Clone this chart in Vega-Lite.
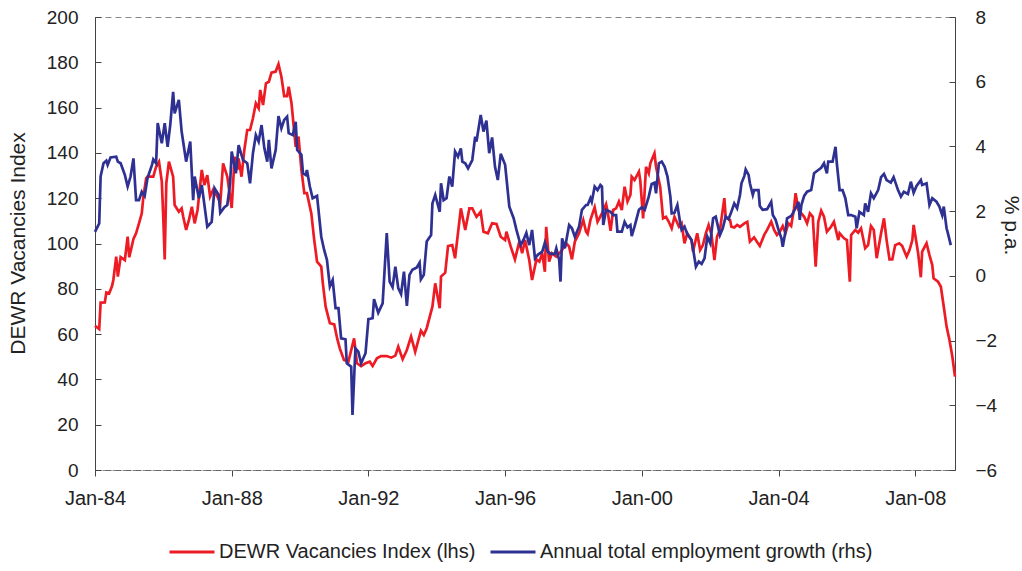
{
  "$schema": "https://vega.github.io/schema/vega-lite/v6.json",
  "width": 860,
  "height": 453,
  "autosize": "none",
  "padding": {"left": 95, "top": 17, "right": 67, "bottom": 101},
  "background": "white",
  "config": {
    "font": "Liberation Sans",
    "view": {"stroke": "#888888", "strokeDash": [6, 4], "strokeWidth": 1},
    "axis": {"grid": false, "labelFont": "Liberation Sans", "labelFontSize": 19, "labelColor": "#222222", "titleFont": "Liberation Sans", "titleFontSize": 21, "titleFontWeight": "normal", "titleColor": "#222222", "tickColor": "#444444", "domainColor": "#444444"},
    "legend": {"labelFont": "Liberation Sans", "labelFontSize": 20, "labelColor": "#222222", "labelLimit": 0}
  },
  "datasets": {
    "vacancies": [
      {"date":"1984-01-01","value":63.7},{"date":"1984-02-15","value":62.2},{"date":"1984-03-01","value":73.9},{"date":"1984-04-15","value":74},{"date":"1984-05-01","value":78.4},{"date":"1984-06-01","value":78},{"date":"1984-07-01","value":81.2},{"date":"1984-07-15","value":83.9},{"date":"1984-08-15","value":94.2},{"date":"1984-09-01","value":85.4},{"date":"1984-10-01","value":94},{"date":"1984-11-15","value":92.7},{"date":"1984-12-15","value":103},
      {"date":"1985-01-01","value":93.9},{"date":"1985-02-15","value":102},{"date":"1985-03-15","value":104.5},{"date":"1985-04-15","value":108.9},{"date":"1985-05-15","value":113.3},{"date":"1985-06-01","value":120.7},{"date":"1985-07-01","value":128.8},{"date":"1985-07-15","value":129.5},{"date":"1985-09-15","value":129.5},{"date":"1985-10-15","value":133.9},{"date":"1985-11-15","value":136.1},{"date":"1985-12-15","value":127.3},
      {"date":"1986-01-01","value":110},{"date":"1986-01-15","value":93},{"date":"1986-02-01","value":126.6},{"date":"1986-03-01","value":136.1},{"date":"1986-04-15","value":129.5},{"date":"1986-05-01","value":117},{"date":"1986-06-15","value":114},{"date":"1986-07-15","value":115.5},{"date":"1986-08-01","value":111.8},{"date":"1986-09-01","value":106},{"date":"1986-10-01","value":110.4},{"date":"1986-11-01","value":116.2},{"date":"1986-12-01","value":108.9},
      {"date":"1987-01-01","value":114.8},{"date":"1987-02-15","value":132.5},{"date":"1987-03-15","value":125.8},{"date":"1987-04-15","value":130.2},{"date":"1987-05-15","value":120.7},{"date":"1987-06-15","value":123.6},{"date":"1987-08-01","value":120.7},{"date":"1987-09-01","value":118},{"date":"1987-10-01","value":135.4},{"date":"1987-11-15","value":129.5},
      {"date":"1988-01-01","value":115.7},{"date":"1988-02-01","value":138.3},{"date":"1988-03-01","value":132.5},{"date":"1988-03-15","value":137.6},{"date":"1988-04-15","value":129.5},{"date":"1988-05-15","value":141.3},{"date":"1988-06-15","value":150.1},{"date":"1988-07-15","value":150.1},{"date":"1988-08-15","value":155.3},{"date":"1988-09-15","value":161.9},{"date":"1988-10-15","value":159.7},{"date":"1988-11-01","value":167.8},{"date":"1988-12-01","value":161.1},
      {"date":"1989-01-01","value":170.7},{"date":"1989-02-01","value":171.4},{"date":"1989-03-01","value":175.4},{"date":"1989-04-15","value":175.9},{"date":"1989-05-15","value":179.2},{"date":"1989-06-15","value":173.6},{"date":"1989-07-15","value":165.1},{"date":"1989-08-15","value":165.1},{"date":"1989-09-01","value":169.2},{"date":"1989-10-01","value":161.9},{"date":"1989-11-15","value":142.7},{"date":"1989-12-15","value":147.2},
      {"date":"1990-01-15","value":132.5},{"date":"1990-02-15","value":122.2},{"date":"1990-03-15","value":122.2},{"date":"1990-05-01","value":113.3},{"date":"1990-06-01","value":101.5},{"date":"1990-07-01","value":92},{"date":"1990-08-15","value":89.8},{"date":"1990-09-01","value":82.4},{"date":"1990-10-01","value":72.1},{"date":"1990-11-15","value":64.8},
      {"date":"1991-01-01","value":64.3},{"date":"1991-02-01","value":58.1},{"date":"1991-03-01","value":53.7},{"date":"1991-04-15","value":48.6},{"date":"1991-06-01","value":47.8},{"date":"1991-08-01","value":58.1},{"date":"1991-09-01","value":47.1},{"date":"1991-10-15","value":45.9},{"date":"1991-12-01","value":47.1},
      {"date":"1992-01-15","value":47.8},{"date":"1992-02-15","value":45.9},{"date":"1992-04-01","value":49.3},{"date":"1992-05-15","value":50.3},{"date":"1992-07-15","value":50.3},{"date":"1992-09-01","value":49.6},{"date":"1992-10-15","value":50.5},{"date":"1992-11-15","value":54.4},
      {"date":"1993-01-01","value":48.9},{"date":"1993-02-15","value":53},{"date":"1993-04-01","value":58.9},{"date":"1993-05-15","value":52.2},{"date":"1993-07-15","value":61.5},{"date":"1993-08-15","value":59.6},{"date":"1993-09-15","value":62.6},{"date":"1993-11-15","value":72.1},{"date":"1993-12-15","value":82.4},
      {"date":"1994-02-01","value":71.4},{"date":"1994-02-15","value":85.4},{"date":"1994-04-01","value":87.1},{"date":"1994-05-01","value":98.9},{"date":"1994-06-15","value":99.3},{"date":"1994-07-15","value":93.5},{"date":"1994-09-15","value":115.5},{"date":"1994-11-01","value":106},{"date":"1994-12-15","value":115.5},
      {"date":"1995-01-15","value":115.5},{"date":"1995-03-01","value":111.8},{"date":"1995-04-15","value":114},{"date":"1995-05-15","value":105.2},{"date":"1995-07-01","value":104.5},{"date":"1995-08-15","value":108.9},{"date":"1995-10-01","value":108.6},{"date":"1995-11-15","value":103},
      {"date":"1996-01-01","value":101.5},{"date":"1996-01-15","value":105.2},{"date":"1996-03-01","value":98.6},{"date":"1996-04-15","value":93},{"date":"1996-06-01","value":100.8},{"date":"1996-07-01","value":95.7},{"date":"1996-08-01","value":101.5},{"date":"1996-09-15","value":92.7},{"date":"1996-10-15","value":83.9},{"date":"1996-12-01","value":93},
      {"date":"1997-01-01","value":92},{"date":"1997-02-01","value":95.7},{"date":"1997-03-01","value":87.5},{"date":"1997-03-15","value":107.4},{"date":"1997-04-15","value":92},{"date":"1997-05-15","value":95.7},{"date":"1997-07-01","value":94.2},{"date":"1997-09-01","value":97.1},{"date":"1997-10-15","value":100.1},{"date":"1997-11-15","value":98.6},{"date":"1997-12-15","value":93},
      {"date":"1998-01-15","value":100.8},{"date":"1998-03-01","value":104.5},{"date":"1998-04-15","value":110.4},{"date":"1998-05-15","value":105.2},{"date":"1998-06-01","value":104.2},{"date":"1998-07-01","value":110.4},{"date":"1998-08-15","value":116},{"date":"1998-09-15","value":109.6},{"date":"1998-11-01","value":113.3},{"date":"1998-12-15","value":117.4},
      {"date":"1999-01-01","value":114},{"date":"1999-02-01","value":105.6},{"date":"1999-03-01","value":114.8},{"date":"1999-04-01","value":115.5},{"date":"1999-05-01","value":118.5},{"date":"1999-06-01","value":114.8},{"date":"1999-07-01","value":125.1},{"date":"1999-08-01","value":118.5},{"date":"1999-09-01","value":121.4},{"date":"1999-09-15","value":129.5},{"date":"1999-10-15","value":128},{"date":"1999-12-01","value":131.7},{"date":"1999-12-15","value":128},
      {"date":"2000-01-15","value":111.1},{"date":"2000-02-15","value":133.9},{"date":"2000-03-15","value":131},{"date":"2000-04-01","value":135.4},{"date":"2000-05-15","value":139.8},{"date":"2000-06-01","value":133.9},{"date":"2000-07-15","value":125.1},{"date":"2000-08-15","value":111.1},{"date":"2000-09-15","value":111.8},{"date":"2000-10-15","value":109.6},{"date":"2000-11-15","value":106.7},{"date":"2000-12-15","value":111.8},
      {"date":"2001-02-01","value":107.4},{"date":"2001-03-01","value":108.9},{"date":"2001-04-01","value":100.1},{"date":"2001-05-01","value":104.5},{"date":"2001-06-15","value":101.5},{"date":"2001-07-01","value":96.4},{"date":"2001-08-15","value":104.5},{"date":"2001-09-15","value":97.1},{"date":"2001-10-15","value":99.3},{"date":"2001-11-15","value":104.5},{"date":"2001-12-15","value":108.2},
      {"date":"2002-01-15","value":103.8},{"date":"2002-02-15","value":92.7},{"date":"2002-03-15","value":103},{"date":"2002-04-15","value":106},{"date":"2002-06-01","value":120},{"date":"2002-06-15","value":111.8},{"date":"2002-08-01","value":110.4},{"date":"2002-08-15","value":107.4},{"date":"2002-09-15","value":107.1},{"date":"2002-10-15","value":108.2},{"date":"2002-11-15","value":107.4},
      {"date":"2003-01-01","value":108.9},{"date":"2003-02-01","value":109.6},{"date":"2003-03-01","value":100.8},{"date":"2003-04-15","value":102.7},{"date":"2003-05-15","value":100.8},{"date":"2003-06-15","value":98.9},{"date":"2003-08-01","value":103.8},{"date":"2003-09-01","value":106},{"date":"2003-10-15","value":109.6},{"date":"2003-11-15","value":106},{"date":"2003-12-15","value":103.8},
      {"date":"2004-01-15","value":105.2},{"date":"2004-02-15","value":107.7},{"date":"2004-03-15","value":104.5},{"date":"2004-04-15","value":108.9},{"date":"2004-05-15","value":107.7},{"date":"2004-06-15","value":115.5},{"date":"2004-07-01","value":122.2},{"date":"2004-08-01","value":114.8},{"date":"2004-09-01","value":113.3},{"date":"2004-10-01","value":111.8},{"date":"2004-11-01","value":108.9},{"date":"2004-12-01","value":113.3},
      {"date":"2005-01-01","value":111.8},{"date":"2005-02-01","value":89.8},{"date":"2005-03-01","value":109.6},{"date":"2005-04-01","value":114.5},{"date":"2005-05-01","value":111.8},{"date":"2005-06-01","value":105.2},{"date":"2005-07-15","value":107.4},{"date":"2005-08-15","value":109.6},{"date":"2005-10-01","value":101.5},{"date":"2005-10-15","value":104.5},{"date":"2005-12-01","value":102.3},
      {"date":"2006-01-01","value":101.5},{"date":"2006-02-01","value":83.1},{"date":"2006-02-15","value":103.8},{"date":"2006-04-01","value":106},{"date":"2006-05-01","value":104.8},{"date":"2006-06-01","value":106.7},{"date":"2006-07-15","value":97.9},{"date":"2006-08-15","value":99.3},{"date":"2006-09-15","value":107.7},{"date":"2006-10-15","value":106},{"date":"2006-11-15","value":93.5},
      {"date":"2007-01-01","value":104.5},{"date":"2007-02-01","value":111.1},{"date":"2007-03-01","value":101.5},{"date":"2007-04-01","value":93},{"date":"2007-05-01","value":93},{"date":"2007-06-01","value":99.3},{"date":"2007-07-15","value":100.1},{"date":"2007-08-15","value":98.9},{"date":"2007-10-01","value":94.2},{"date":"2007-11-01","value":97.1},{"date":"2007-12-01","value":101.5},{"date":"2007-12-15","value":108.2},
      {"date":"2008-02-01","value":95.7},{"date":"2008-03-01","value":85.1},{"date":"2008-03-15","value":96.4},{"date":"2008-05-01","value":100.1},{"date":"2008-06-01","value":94.9},{"date":"2008-07-01","value":90.5},{"date":"2008-07-15","value":84.6},{"date":"2008-09-01","value":83.1},{"date":"2008-10-01","value":80.9},{"date":"2008-11-01","value":72.1},{"date":"2008-12-01","value":63.3},
      {"date":"2009-01-01","value":57.4},{"date":"2009-02-01","value":50},{"date":"2009-03-01","value":41.2}
    ],
    "employment": [
      {"date":"1984-01-01","value":1.36},{"date":"1984-02-15","value":1.62},{"date":"1984-03-01","value":3.07},{"date":"1984-04-01","value":3.48},{"date":"1984-05-01","value":3.56},{"date":"1984-05-15","value":3.43},{"date":"1984-06-15","value":3.66},{"date":"1984-08-15","value":3.68},{"date":"1984-09-01","value":3.53},{"date":"1984-10-01","value":3.48},{"date":"1984-11-15","value":3.12},{"date":"1984-12-15","value":2.76},
      {"date":"1985-01-15","value":3.07},{"date":"1985-02-15","value":3.63},{"date":"1985-03-15","value":2.34},{"date":"1985-04-15","value":2.34},{"date":"1985-05-15","value":2.6},{"date":"1985-06-15","value":2.47},{"date":"1985-07-15","value":3.02},{"date":"1985-09-01","value":3.43},{"date":"1985-09-15","value":3.6},{"date":"1985-10-15","value":3.48},{"date":"1985-11-01","value":4.72},{"date":"1985-12-15","value":4.1},
      {"date":"1986-01-15","value":4.72},{"date":"1986-02-15","value":3.99},{"date":"1986-03-15","value":4.66},{"date":"1986-04-15","value":5.69},{"date":"1986-05-01","value":5.02},{"date":"1986-06-15","value":5.44},{"date":"1986-07-15","value":4.46},{"date":"1986-09-01","value":3.53},{"date":"1986-10-15","value":4.15},{"date":"1986-11-15","value":2.34},{"date":"1986-12-01","value":3.07},
      {"date":"1987-01-15","value":2.4},{"date":"1987-02-15","value":2.81},{"date":"1987-04-15","value":1.52},{"date":"1987-06-01","value":1.67},{"date":"1987-07-01","value":2.71},{"date":"1987-08-15","value":2.5},{"date":"1987-09-01","value":1.95},{"date":"1987-10-15","value":2.12},{"date":"1987-11-15","value":2.19},{"date":"1987-12-15","value":2.86},
      {"date":"1988-01-01","value":3.84},{"date":"1988-02-15","value":3.17},{"date":"1988-03-15","value":4.04},{"date":"1988-05-01","value":3.58},{"date":"1988-06-15","value":3.48},{"date":"1988-07-15","value":2.86},{"date":"1988-08-15","value":3.79},{"date":"1988-09-15","value":4.35},{"date":"1988-10-15","value":4.15},{"date":"1988-11-15","value":4.66},{"date":"1988-12-15","value":3.94},
      {"date":"1989-01-15","value":3.53},{"date":"1989-02-01","value":4.2},{"date":"1989-03-01","value":3.32},{"date":"1989-04-15","value":3.89},{"date":"1989-05-15","value":4.94},{"date":"1989-06-15","value":4.56},{"date":"1989-07-15","value":4.82},{"date":"1989-08-15","value":4.92},{"date":"1989-09-01","value":4.41},{"date":"1989-10-15","value":4.35},{"date":"1989-11-15","value":4.76},{"date":"1989-12-01","value":3.89},
      {"date":"1990-01-15","value":3.74},{"date":"1990-02-01","value":3.17},{"date":"1990-03-01","value":3.12},{"date":"1990-03-15","value":3.27},{"date":"1990-04-15","value":2.76},{"date":"1990-05-15","value":2.4},{"date":"1990-07-01","value":2.47},{"date":"1990-08-15","value":1.21},{"date":"1990-09-15","value":0.8},{"date":"1990-10-15","value":0.49},{"date":"1990-11-15","value":-0.33},{"date":"1990-12-15","value":-0.13},
      {"date":"1991-01-15","value":-1},{"date":"1991-02-15","value":-1},{"date":"1991-03-15","value":-1.93},{"date":"1991-05-01","value":-1.96},{"date":"1991-05-15","value":-2.7},{"date":"1991-07-01","value":-2.81},{"date":"1991-07-15","value":-4.3},{"date":"1991-08-15","value":-2.24},{"date":"1991-09-15","value":-2.34},{"date":"1991-10-15","value":-2.7},{"date":"1991-12-01","value":-2.39},
      {"date":"1992-01-01","value":-1.34},{"date":"1992-02-15","value":-1.31},{"date":"1992-03-01","value":-0.72},{"date":"1992-04-15","value":-1.14},{"date":"1992-06-01","value":-0.85},{"date":"1992-07-15","value":1.32},{"date":"1992-08-15","value":-0.18},{"date":"1992-09-15","value":-0.35},{"date":"1992-10-15","value":0.28},{"date":"1992-11-15","value":-0.38},{"date":"1992-12-15","value":-0.56},
      {"date":"1993-01-15","value":0.13},{"date":"1993-02-15","value":-0.93},{"date":"1993-03-15","value":0.03},{"date":"1993-04-15","value":0.19},{"date":"1993-06-01","value":0.26},{"date":"1993-07-01","value":0.41},{"date":"1993-07-15","value":-0.11},{"date":"1993-08-15","value":0.03},{"date":"1993-09-15","value":1.06},{"date":"1993-11-01","value":1.26},{"date":"1993-11-15","value":2.24},{"date":"1993-12-15","value":2.5},
      {"date":"1994-02-01","value":1.98},{"date":"1994-02-15","value":2.86},{"date":"1994-03-15","value":2.34},{"date":"1994-04-15","value":2.4},{"date":"1994-05-15","value":3.07},{"date":"1994-06-15","value":2.76},{"date":"1994-07-15","value":3.84},{"date":"1994-08-15","value":3.68},{"date":"1994-09-15","value":3.94},{"date":"1994-10-01","value":3.53},{"date":"1994-11-01","value":3.48},{"date":"1994-12-01","value":3.32},
      {"date":"1995-01-15","value":3.58},{"date":"1995-02-15","value":4.3},{"date":"1995-03-01","value":4.15},{"date":"1995-04-15","value":4.97},{"date":"1995-05-15","value":4.46},{"date":"1995-06-15","value":4.8},{"date":"1995-07-15","value":3.79},{"date":"1995-08-15","value":4.28},{"date":"1995-09-15","value":3.37},{"date":"1995-10-15","value":2.96},{"date":"1995-11-15","value":3.77},
      {"date":"1996-01-01","value":3.43},{"date":"1996-02-15","value":2.14},{"date":"1996-04-01","value":1.78},{"date":"1996-05-01","value":1.42},{"date":"1996-06-15","value":0.95},{"date":"1996-07-15","value":1.11},{"date":"1996-08-15","value":1.33},{"date":"1996-09-15","value":0.95},{"date":"1996-10-15","value":1.42},{"date":"1996-11-15","value":0.54},{"date":"1996-12-15","value":0.65},
      {"date":"1997-02-01","value":0.75},{"date":"1997-03-01","value":1.03},{"date":"1997-04-01","value":0.75},{"date":"1997-05-01","value":0.68},{"date":"1997-06-15","value":0.68},{"date":"1997-07-01","value":0.85},{"date":"1997-08-01","value":0.49},{"date":"1997-08-15","value":-0.18},{"date":"1997-09-01","value":1.16},{"date":"1997-10-01","value":0.85},{"date":"1997-11-15","value":1.57},{"date":"1997-12-15","value":1.47},
      {"date":"1998-01-15","value":1.21},{"date":"1998-03-01","value":1.52},{"date":"1998-04-01","value":2.04},{"date":"1998-05-15","value":2.19},{"date":"1998-06-01","value":2.19},{"date":"1998-07-01","value":2.4},{"date":"1998-07-15","value":2.29},{"date":"1998-08-15","value":2.76},{"date":"1998-09-15","value":2.65},{"date":"1998-10-15","value":2.81},{"date":"1998-11-01","value":2.76},{"date":"1998-11-15","value":1.57},{"date":"1998-12-15","value":2.04},
      {"date":"1999-02-01","value":1.98},{"date":"1999-03-01","value":1.88},{"date":"1999-04-01","value":1.88},{"date":"1999-04-15","value":1.37},{"date":"1999-06-01","value":1.37},{"date":"1999-07-01","value":1.67},{"date":"1999-08-01","value":1.5},{"date":"1999-09-01","value":1.57},{"date":"1999-09-15","value":1.23},{"date":"1999-10-15","value":1.52},{"date":"1999-12-01","value":2.04},
      {"date":"2000-01-01","value":2.12},{"date":"2000-02-01","value":2.04},{"date":"2000-03-15","value":2.45},{"date":"2000-04-15","value":2.84},{"date":"2000-05-15","value":2.88},{"date":"2000-06-01","value":2.55},{"date":"2000-07-01","value":3.48},{"date":"2000-08-01","value":3.53},{"date":"2000-09-01","value":3.37},{"date":"2000-10-01","value":3.07},{"date":"2000-11-01","value":2.45},{"date":"2000-11-15","value":1.93},{"date":"2000-12-15","value":1.95},
      {"date":"2001-01-15","value":2.19},{"date":"2001-02-15","value":1.62},{"date":"2001-03-01","value":1.42},{"date":"2001-04-01","value":1.52},{"date":"2001-05-01","value":1.29},{"date":"2001-06-15","value":1.11},{"date":"2001-07-01","value":0.85},{"date":"2001-08-01","value":0.28},{"date":"2001-09-01","value":0.44},{"date":"2001-10-01","value":0.37},{"date":"2001-11-01","value":0.54},{"date":"2001-12-01","value":1.21},
      {"date":"2002-01-01","value":1.01},{"date":"2002-02-01","value":1.78},{"date":"2002-03-01","value":1.83},{"date":"2002-04-15","value":1.26},{"date":"2002-05-15","value":1.47},{"date":"2002-06-15","value":1.83},{"date":"2002-07-15","value":1.75},{"date":"2002-08-15","value":1.98},{"date":"2002-09-15","value":2.24},{"date":"2002-10-15","value":2.09},{"date":"2002-11-15","value":2.5},{"date":"2002-12-01","value":2.86},
      {"date":"2003-01-01","value":3.09},{"date":"2003-01-15","value":3.29},{"date":"2003-02-15","value":3.12},{"date":"2003-03-01","value":2.86},{"date":"2003-04-01","value":2.5},{"date":"2003-04-15","value":2.65},{"date":"2003-06-01","value":2.65},{"date":"2003-06-15","value":2.16},{"date":"2003-07-15","value":2.04},{"date":"2003-09-01","value":2.06},{"date":"2003-10-15","value":2.29},{"date":"2003-11-01","value":1.88},{"date":"2003-12-01","value":1.73},
      {"date":"2004-01-01","value":1.42},{"date":"2004-02-01","value":1.16},{"date":"2004-02-15","value":0.9},{"date":"2004-03-15","value":1.37},{"date":"2004-04-01","value":1.78},{"date":"2004-05-15","value":1.85},{"date":"2004-06-01","value":1.93},{"date":"2004-07-01","value":2.09},{"date":"2004-08-01","value":2.29},{"date":"2004-08-15","value":1.73},{"date":"2004-09-01","value":2.19},{"date":"2004-10-01","value":2.47},{"date":"2004-11-01","value":2.6},{"date":"2004-12-15","value":2.65},
      {"date":"2005-01-15","value":3.17},{"date":"2005-03-01","value":3.27},{"date":"2005-04-01","value":3.34},{"date":"2005-05-01","value":3.48},{"date":"2005-06-01","value":3.17},{"date":"2005-06-15","value":3.53},{"date":"2005-08-01","value":3.53},{"date":"2005-09-01","value":3.99},{"date":"2005-09-15","value":3.48},{"date":"2005-10-15","value":2.65},{"date":"2005-11-15","value":2.65},{"date":"2005-12-15","value":2.4},
      {"date":"2006-01-15","value":1.88},{"date":"2006-02-15","value":1.88},{"date":"2006-04-01","value":1.83},{"date":"2006-04-15","value":1.47},{"date":"2006-05-15","value":1.98},{"date":"2006-07-01","value":1.88},{"date":"2006-07-15","value":2.24},{"date":"2006-08-15","value":1.98},{"date":"2006-09-15","value":2.55},{"date":"2006-10-15","value":2.4},{"date":"2006-12-01","value":2.65},
      {"date":"2007-01-01","value":3.05},{"date":"2007-02-01","value":3.15},{"date":"2007-03-01","value":2.96},{"date":"2007-04-15","value":2.88},{"date":"2007-05-15","value":3.05},{"date":"2007-07-01","value":2.65},{"date":"2007-08-01","value":2.45},{"date":"2007-09-01","value":2.6},{"date":"2007-10-15","value":2.53},{"date":"2007-11-15","value":2.91},{"date":"2007-12-15","value":2.57},
      {"date":"2008-01-15","value":2.78},{"date":"2008-03-01","value":2.96},{"date":"2008-03-15","value":2.81},{"date":"2008-05-01","value":2.86},{"date":"2008-06-01","value":2.19},{"date":"2008-07-01","value":2.4},{"date":"2008-08-15","value":2.29},{"date":"2008-09-15","value":2.14},{"date":"2008-10-15","value":1.88},{"date":"2008-11-01","value":2.14},{"date":"2008-12-01","value":1.47},{"date":"2008-12-15","value":1.32},
      {"date":"2009-01-15","value":0.95}
    ]
  },
  "encoding": {
    "x": {
      "field": "date", "type": "temporal",
      "scale": {"type": "utc", "domain": [{"year": 1984, "month": 1, "date": 1, "utc": true}, {"year": 2009, "month": 3, "date": 1, "utc": true}]},
      "axis": {
        "title": null,
        "labelExpr": "utcFormat(datum.value, '%b-%y')",
        "values": [{"year": 1984, "month": 1, "date": 1, "utc": true}, {"year": 1988, "month": 1, "date": 1, "utc": true}, {"year": 1992, "month": 1, "date": 1, "utc": true}, {"year": 1996, "month": 1, "date": 1, "utc": true}, {"year": 2000, "month": 1, "date": 1, "utc": true}, {"year": 2004, "month": 1, "date": 1, "utc": true}, {"year": 2008, "month": 1, "date": 1, "utc": true}],
        "tickSize": 6, "labelPadding": 12, "labelFontSize": 20, "domainDash": [6, 4], "domainColor": "#666666", "labelFlush": false, "labelOverlap": false
      }
    }
  },
  "layer": [
    {
      "data": {"name": "vacancies"},
      "mark": {"type": "line", "strokeWidth": 2.7, "interpolate": "linear"},
      "encoding": {
        "y": {"field": "value", "type": "quantitative", "scale": {"domain": [0, 200], "nice": false, "zero": false},
          "axis": {"title": "DEWR Vacancies Index", "orient": "left", "values": [0, 20, 40, 60, 80, 100, 120, 140, 160, 180, 200], "tickSize": -6, "labelPadding": 23, "titleX": -77, "titleY": 226, "titleAngle": -90, "titleAlign": "center", "titleBaseline": "middle"}},
        "color": {"datum": "DEWR Vacancies Index (lhs)", "type": "nominal",
          "scale": {"domain": ["DEWR Vacancies Index (lhs)", "Annual total employment growth (rhs)"], "range": ["#ED1C24", "#2E3192"]},
          "legend": {"title": null, "orient": "none", "direction": "horizontal", "legendX": 73, "legendY": 511, "symbolType": "stroke", "symbolSize": 2025, "symbolStrokeWidth": 3, "labelOffset": 3, "columnPadding": 8}}
      }
    },
    {
      "data": {"name": "employment"},
      "mark": {"type": "line", "strokeWidth": 2.7, "interpolate": "linear"},
      "encoding": {
        "y": {"field": "value", "type": "quantitative", "scale": {"domain": [-6, 8], "nice": false, "zero": false},
          "axis": {"title": "% p.a.", "orient": "right", "values": [-6, -4, -2, 0, 2, 4, 6, 8], "tickSize": -6, "labelPadding": 26, "titleX": 55, "titleY": 208, "titleAngle": 90, "titleAlign": "center", "titleBaseline": "middle"}},
        "color": {"datum": "Annual total employment growth (rhs)", "type": "nominal"}
      }
    }
  ],
  "resolve": {"scale": {"y": "independent"}}
}
